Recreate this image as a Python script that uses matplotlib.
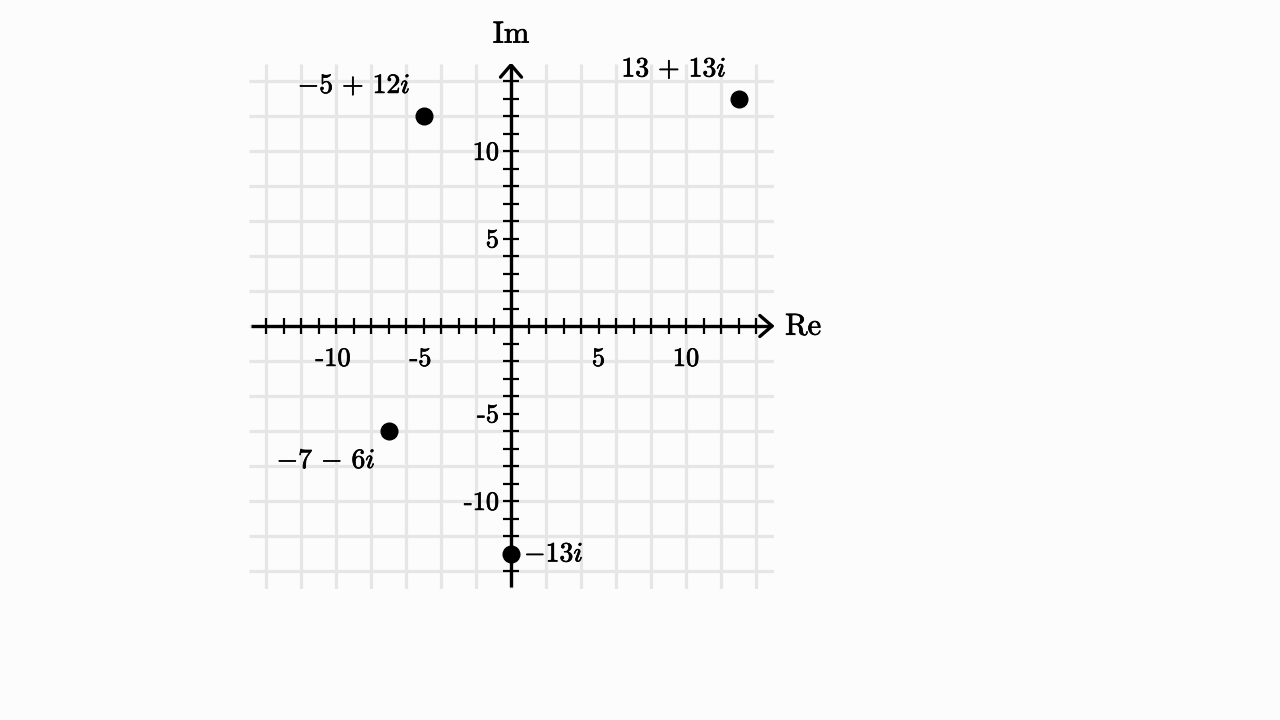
import numpy as np
import matplotlib
matplotlib.use("Agg")
import matplotlib.pyplot as plt
import matplotlib.patheffects as pe

# ---- data ----
point_re = [-5, 13, -7, 0]
point_im = [12, 13, -6, -13]
point_labels = [r"$-5\,+\,12i$", r"$13\,+\,13i$", r"$-7\,-\,6i$", r"$-13i$"]
label_offsets = [(-13, 31), (-12, 30), (-13, -29), (13, 0)]
label_ha = ["right", "right", "right", "left"]
x_tick_values = [-10, -5, 5, 10]
y_tick_values = [10, 5, -5, -10]
axis_lim = 15
grid_values = np.arange(-14, 15, 2)
minor_ticks = [v for v in range(-14, 15) if v != 0]

plt.rcParams['mathtext.fontset'] = 'cm'
BG = '#fcfcfc'
fig = plt.figure(figsize=(12.8, 7.2), dpi=100, facecolor=BG)
ax = fig.add_axes([248.5/1280, 1-588.5/720, 525/1280, 525/720])
ax.set_facecolor(BG)
ax.set_xlim(-axis_lim, axis_lim)
ax.set_ylim(-axis_lim, axis_lim)
ax.axis('off')

gc = '#e6e6e6'
for g in grid_values:
    ax.plot([g, g], [-axis_lim, axis_lim], color=gc, lw=2.3, zorder=1, solid_capstyle='butt')
    ax.plot([-axis_lim, axis_lim], [g, g], color=gc, lw=2.3, zorder=1, solid_capstyle='butt')

# axes
tip = 14.92
ax.plot([-14.85, tip], [0, 0], color='black', lw=2.4, zorder=3, solid_capstyle='butt')
ax.plot([0, 0], [-14.9, tip], color='black', lw=2.4, zorder=3, solid_capstyle='butt')
al, aw = 0.7, 0.6
ax.plot([tip - al, tip, tip - al], [aw, 0, -aw], color='black', lw=2.4, zorder=3,
        solid_joinstyle='miter', solid_capstyle='round')
ax.plot([aw, 0, -aw], [tip - al, tip, tip - al], color='black', lw=2.4, zorder=3,
        solid_joinstyle='miter', solid_capstyle='round')

th = 0.48
for t in minor_ticks:
    ax.plot([t, t], [-th, th], color='black', lw=1.6, zorder=3, solid_capstyle='butt')
    ax.plot([-th, th], [t, t], color='black', lw=1.6, zorder=3, solid_capstyle='butt')

bold = [pe.withStroke(linewidth=0.5, foreground='black')]

tfs = 19
for v in x_tick_values:
    ax.annotate(f"{v}", (v, 0), xytext=(-3 if v < 0 else 0, -33), textcoords='offset pixels',
                ha='center', va='center', fontsize=tfs, family='cmr10', zorder=4,
                path_effects=bold)
for v in y_tick_values:
    ax.annotate(f"{v}", (0, v), xytext=(-12, -2), textcoords='offset pixels',
                ha='right', va='center', fontsize=tfs, family='cmr10', zorder=4,
                path_effects=bold)

ax.annotate("Re", (tip, 0), xytext=(13, -1), textcoords='offset pixels',
            ha='left', va='center', fontsize=22, family='cmr10', annotation_clip=False,
            path_effects=bold)
ax.annotate("Im", (0, tip), xytext=(0, 30), textcoords='offset pixels',
            ha='center', va='center', fontsize=22, family='cmr10', annotation_clip=False,
            path_effects=bold)

ax.scatter(point_re, point_im, s=12**2, color='black', zorder=5, clip_on=False)
for x, y, lab, off, ha in zip(point_re, point_im, point_labels, label_offsets, label_ha):
    ax.annotate(lab, (x, y), xytext=off, textcoords='offset pixels', ha=ha, va='center',
                fontsize=20, zorder=6, annotation_clip=False, path_effects=bold)

fig.savefig('out.png', dpi=100, facecolor=BG)
